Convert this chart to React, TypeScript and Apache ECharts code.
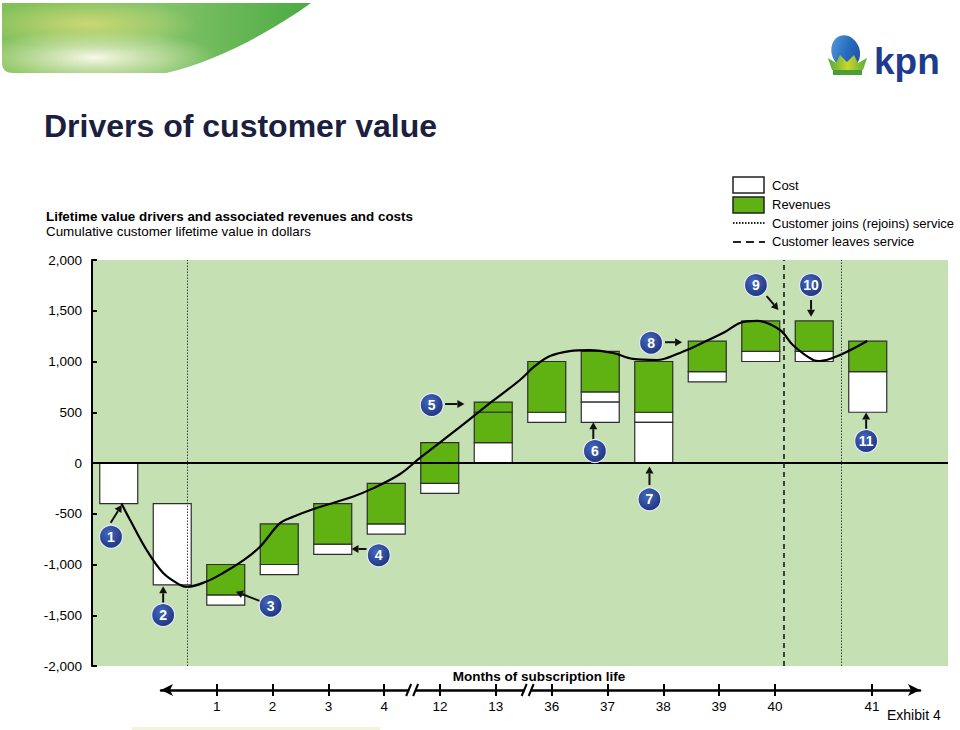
import React, { useEffect, useRef } from "react";
import * as echarts from "echarts";

const FONT = '"Liberation Sans", Arial, Helvetica, sans-serif';

// y axis ticks (cumulative customer lifetime value, dollars)
const yMin = -2000;
const yMax = 2000;
const yStep = 500;

// bar segments: [bar number, low, high]
const costSegments: number[][] = [
  [1, -400, 0],
  [2, -1200, -400],
  [3, -1400, -1300],
  [4, -1100, -1000],
  [5, -900, -800],
  [6, -700, -600],
  [7, -300, -200],
  [8, 0, 200],
  [9, 400, 500],
  [10, 600, 700],
  [10, 400, 600],
  [11, 400, 500],
  [11, 0, 400],
  [12, 800, 900],
  [13, 1000, 1100],
  [14, 1000, 1100],
  [15, 500, 900],
];

const revenueSegments: number[][] = [
  [3, -1300, -1000],
  [4, -1000, -600],
  [5, -800, -400],
  [6, -600, -200],
  [7, -200, 200],
  [8, 500, 600],
  [8, 200, 500],
  [9, 500, 1000],
  [10, 700, 1100],
  [11, 500, 1000],
  [12, 900, 1200],
  [13, 1100, 1400],
  [14, 1100, 1400],
  [15, 900, 1200],
];

// cumulative value curve: [position in bar units, value]
const valueCurve: number[][] = [
  [1.05, -400], [1.21, -560], [1.52, -857], [1.83, -1084], [2.14, -1200],
  [2.28, -1220], [2.63, -1170], [2.95, -1084], [3.34, -955], [3.64, -825],
  [4.01, -595], [4.26, -530], [4.63, -455], [5.36, -335], [5.75, -250],
  [6.26, -108], [6.63, 50], [7.38, 355], [7.99, 611], [8.5, 818],
  [8.78, 956], [9.06, 1054], [9.43, 1103], [9.81, 1113], [10.24, 1084],
  [10.61, 1025], [11.06, 1015], [11.49, 1084], [11.62, 1113], [12.33, 1290],
  [12.61, 1380], [12.93, 1400], [13.36, 1310], [13.6, 1163], [13.98, 1015],
  [14.1, 1005], [14.48, 1064], [14.99, 1202],
];

// event lines (bar units)
const joinLines = [2.28, 14.5];
const leaveLines = [13.43];

// callouts: [number, circle x, circle y, arrow from x, from y, arrow to x, to y]
const callouts: number[][] = [
  [1, 0.855, -726, 0.85, -588, 1.055, -414],
  [2, 1.83, -1497, 1.83, -1376, 1.83, -1215],
  [3, 3.84, -1406, 3.67, -1366, 3.19, -1268],
  [4, 5.86, -909, 5.63, -847, 5.35, -847],
  [5, 6.85, 571, 7.1, 581, 7.46, 581],
  [6, 9.9, 118, 9.87, 210, 9.87, 402],
  [7, 10.92, -358, 10.92, -217, 10.92, -35],
  [8, 10.95, 1185, 11.21, 1190, 11.53, 1190],
  [9, 12.91, 1754, 13.11, 1645, 13.33, 1507],
  [10, 13.94, 1754, 13.94, 1606, 13.94, 1441],
  [11, 14.97, 217, 14.97, 325, 14.97, 497],
];

// bottom timeline
const monthLabels = ["1", "2", "3", "4", "12", "13", "36", "37", "38", "39", "40", "41"];
const monthTickPos = [1, 2, 3, 4, 5, 6, 7, 8, 9, 10, 11, 12.74];
const axisBreaks = [4.5, 6.57];

const REV = "#60B212";
const BG = "#C5E0B3";
const NAVY = "#1E3C8E";

const swooshPath =
  "M2 3 L311 3 C 276 28 222 60 166 73 L 13 73 Q 2 73 2 62 Z";
echarts.graphic.registerShape("swoosh", echarts.graphic.extendPath(swooshPath, {}));

export default function App() {
  const ref = useRef<HTMLDivElement>(null);

  useEffect(() => {
    if (!ref.current) return;
    const chart = echarts.init(ref.current, null, { renderer: "svg" });

    const barData = [
      ...costSegments.map((s) => [s[0], s[1], s[2], 0]),
      ...revenueSegments.map((s) => [s[0], s[1], s[2], 1]),
    ];

    const markLineData: any[] = [
      { yAxis: 0, lineStyle: { type: "solid", width: 2, color: "#000" } },
      ...joinLines.map((x) => ({
        xAxis: x,
        lineStyle: { type: [1.5, 1.5], width: 1, color: "#3a3a3a" },
      })),
      ...leaveLines.map((x) => ({
        xAxis: x,
        lineStyle: { type: [5, 4], width: 1.6, color: "#1a1a1a" },
      })),
    ];

    const tickAxisBase = {
      type: "value",
      gridIndex: 1,
      min: 0,
      max: 13.6,
      position: "bottom",
      splitLine: { show: false },
    };

    const option: any = {
      animation: false,
      grid: [
        {
          left: 92,
          top: 260,
          width: 856,
          height: 406,
          show: true,
          backgroundColor: BG,
          borderWidth: 0,
        },
        { left: 161, top: 680, width: 759, height: 10, show: false },
      ],
      xAxis: [
        { type: "value", min: 0.5, max: 16.5, show: false, gridIndex: 0 },
        {
          ...tickAxisBase,
          axisLine: {
            show: true,
            onZero: false,
            symbol: ["arrow", "arrow"],
            symbolSize: [9, 12],
            lineStyle: { color: "#000", width: 2.5 },
          },
          axisTick: {
            show: true,
            customValues: monthTickPos,
            length: 6,
            inside: false,
            lineStyle: { color: "#000", width: 2 },
          },
          axisLabel: {
            show: true,
            customValues: monthTickPos,
            margin: 9,
            fontSize: 13.5,
            fontFamily: FONT,
            color: "#000",
            formatter: (v: number) => {
              const i = monthTickPos.findIndex((p) => Math.abs(p - v) < 0.01);
              return i >= 0 ? monthLabels[i] : "";
            },
          },
        },
        {
          ...tickAxisBase,
          axisLine: { show: false, onZero: false },
          axisTick: {
            show: true,
            customValues: monthTickPos,
            length: 6,
            inside: true,
            lineStyle: { color: "#000", width: 2 },
          },
          axisLabel: { show: false },
        },
      ],
      yAxis: [
        {
          type: "value",
          gridIndex: 0,
          min: yMin,
          max: yMax,
          interval: yStep,
          axisLine: { show: true, lineStyle: { color: "#000", width: 2 } },
          axisTick: { show: true, inside: true, length: 5, lineStyle: { color: "#000", width: 2 } },
          axisLabel: {
            fontSize: 13.5,
            fontFamily: FONT,
            color: "#000",
            margin: 10,
            formatter: (v: number) => v.toLocaleString("en-US"),
          },
          splitLine: { show: false },
        },
        { type: "value", gridIndex: 1, min: 0, max: 1, show: false },
      ],
      series: [
        {
          type: "custom",
          name: "bars",
          xAxisIndex: 0,
          yAxisIndex: 0,
          z: 2,
          data: barData,
          encode: { x: 0, y: [1, 2] },
          renderItem: (params: any, api: any) => {
            const x = api.value(0);
            const lo = api.value(1);
            const hi = api.value(2);
            const kind = api.value(3);
            const p1 = api.coord([x, hi]);
            const p2 = api.coord([x, lo]);
            const w = api.size([0.71, 0])[0];
            return {
              type: "rect",
              shape: { x: p1[0] - w / 2, y: p1[1], width: w, height: p2[1] - p1[1] },
              style: { fill: kind ? REV : "#ffffff", stroke: "#2e2e2e", lineWidth: 1.2 },
            };
          },
        },
        {
          type: "line",
          name: "value",
          xAxisIndex: 0,
          yAxisIndex: 0,
          z: 4,
          data: valueCurve,
          smooth: 0.35,
          showSymbol: false,
          symbol: "none",
          lineStyle: { color: "#000", width: 2.2 },
          markLine: {
            silent: true,
            symbol: ["none", "none"],
            label: { show: false },
            data: markLineData,
          },
        },
        {
          type: "custom",
          name: "callouts",
          xAxisIndex: 0,
          yAxisIndex: 0,
          z: 6,
          clip: false,
          data: callouts,
          encode: { x: 1, y: 2 },
          renderItem: (params: any, api: any) => {
            const c = api.coord([api.value(1), api.value(2)]);
            const a = api.coord([api.value(3), api.value(4)]);
            const b = api.coord([api.value(5), api.value(6)]);
            const dx = b[0] - a[0];
            const dy = b[1] - a[1];
            const len = Math.hypot(dx, dy) || 1;
            const ux = dx / len;
            const uy = dy / len;
            const hl = 7;
            const hw = 4;
            const bx = b[0] - ux * hl;
            const by = b[1] - uy * hl;
            return {
              type: "group",
              children: [
                {
                  type: "line",
                  shape: { x1: a[0], y1: a[1], x2: bx, y2: by },
                  style: { stroke: "#111", lineWidth: 2 },
                },
                {
                  type: "polygon",
                  shape: {
                    points: [
                      [b[0], b[1]],
                      [bx - uy * hw, by + ux * hw],
                      [bx + uy * hw, by - ux * hw],
                    ],
                  },
                  style: { fill: "#111" },
                },
                {
                  type: "circle",
                  shape: { cx: c[0], cy: c[1], r: 11.5 },
                  style: {
                    fill: new echarts.graphic.RadialGradient(0.4, 0.35, 0.75, [
                      { offset: 0, color: "#4568bd" },
                      { offset: 1, color: "#1b2f78" },
                    ]),
                    stroke: "#e3e9f5",
                    lineWidth: 1.2,
                  },
                },
                {
                  type: "text",
                  x: c[0],
                  y: c[1],
                  style: {
                    text: String(api.value(0)),
                    fill: "#ffffff",
                    font: `bold 14px ${FONT}`,
                    align: "center",
                    verticalAlign: "middle",
                  },
                },
              ],
            };
          },
        },
        {
          type: "custom",
          name: "breaks",
          xAxisIndex: 1,
          yAxisIndex: 1,
          z: 6,
          clip: false,
          data: axisBreaks.map((b) => [b, 0]),
          encode: { x: 0, y: 1 },
          renderItem: (params: any, api: any) => {
            const p = api.coord([api.value(0), 0]);
            return {
              type: "group",
              children: [
                {
                  type: "rect",
                  shape: { x: p[0] - 3, y: p[1] - 3, width: 6, height: 6 },
                  style: { fill: "#fff" },
                },
                {
                  type: "line",
                  shape: { x1: p[0] - 6, y1: p[1] + 6, x2: p[0] - 1, y2: p[1] - 6 },
                  style: { stroke: "#000", lineWidth: 2 },
                },
                {
                  type: "line",
                  shape: { x1: p[0] + 1, y1: p[1] + 6, x2: p[0] + 6, y2: p[1] - 6 },
                  style: { stroke: "#000", lineWidth: 2 },
                },
              ],
            };
          },
        },
      ],
      graphic: [
        // top-left swoosh
        {
          type: "swoosh",
          x: 0,
          y: 0,
          silent: true,
          style: {
            fill: new echarts.graphic.LinearGradient(0, 0, 1, 0, [
              { offset: 0, color: "#82c05a" },
              { offset: 0.5, color: "#86c46a" },
              { offset: 1, color: "#4aab42" },
            ]),
          },
        },
        {
          type: "swoosh",
          x: 0,
          y: 0,
          silent: true,
          style: {
            fill: new echarts.graphic.RadialGradient(0.28, 0.3, 0.35, [
              { offset: 0, color: "rgba(215,220,120,0.85)" },
              { offset: 1, color: "rgba(215,220,120,0)" },
            ]),
          },
        },
        {
          type: "swoosh",
          x: 0,
          y: 0,
          silent: true,
          style: {
            fill: new echarts.graphic.RadialGradient(0.3, 0.78, 0.4, [
              { offset: 0, color: "rgba(255,252,240,0.95)" },
              { offset: 0.5, color: "rgba(240,242,210,0.5)" },
              { offset: 1, color: "rgba(230,240,190,0)" },
            ]),
          },
        },
        // KPN logo
        {
          type: "ellipse",
          silent: true,
          shape: { cx: 846, cy: 52, rx: 14, ry: 17 },
          rotation: 0.35,
          originX: 846,
          originY: 52,
          style: {
            fill: new echarts.graphic.LinearGradient(0, 0, 1, 1, [
              { offset: 0, color: "#5aa0de" },
              { offset: 0.5, color: "#2a6cc0" },
              { offset: 1, color: "#1b4a9a" },
            ]),
          },
        },
        {
          type: "polygon",
          silent: true,
          shape: {
            points: [
              [828, 58], [836, 63], [840, 55], [847, 62], [854, 55],
              [858, 63], [867, 58], [863, 70], [832, 70],
            ],
          },
          style: {
            fill: new echarts.graphic.LinearGradient(0, 0, 1, 0, [
              { offset: 0, color: "#4fa83c" },
              { offset: 0.5, color: "#c9d62a" },
              { offset: 1, color: "#5aab3a" },
            ]),
          },
        },
        {
          type: "rect",
          silent: true,
          shape: { x: 833, y: 70, width: 29, height: 5 },
          style: { fill: "#4a9e36" },
        },
        {
          type: "text",
          silent: true,
          x: 874,
          y: 61,
          style: {
            text: "kpn",
            font: `bold 37px ${FONT}`,
            fill: NAVY,
            verticalAlign: "middle",
          },
        },
        // title
        {
          type: "text",
          x: 44,
          y: 126,
          style: {
            text: "Drivers of customer value",
            font: `bold 32px ${FONT}`,
            fill: "#1b2040",
            verticalAlign: "middle",
          },
        },
        {
          type: "text",
          x: 46,
          y: 216.5,
          style: {
            text: "Lifetime value drivers and associated revenues and costs",
            font: `bold 13.4px ${FONT}`,
            fill: "#000",
            verticalAlign: "middle",
          },
        },
        {
          type: "text",
          x: 46,
          y: 231,
          style: {
            text: "Cumulative customer lifetime value in dollars",
            font: `13.4px ${FONT}`,
            fill: "#000",
            verticalAlign: "middle",
          },
        },
        // legend
        {
          type: "rect",
          shape: { x: 733, y: 177, width: 31, height: 16 },
          style: { fill: "#fff", stroke: "#222", lineWidth: 1.5 },
        },
        {
          type: "rect",
          shape: { x: 733, y: 197, width: 31, height: 16 },
          style: { fill: REV, stroke: "#222", lineWidth: 1.5 },
        },
        {
          type: "line",
          shape: { x1: 733, y1: 223, x2: 765, y2: 223 },
          style: { stroke: "#222", lineWidth: 2, lineDash: [1.5, 1.5] },
        },
        {
          type: "line",
          shape: { x1: 733, y1: 242, x2: 765, y2: 242 },
          style: { stroke: "#222", lineWidth: 2.2, lineDash: [8, 5] },
        },
        ...[
          ["Cost", 185],
          ["Revenues", 204.3],
          ["Customer joins (rejoins) service", 223.3],
          ["Customer leaves service", 241.7],
        ].map(([t, y]) => ({
          type: "text",
          x: 772,
          y: y as number,
          style: { text: t as string, font: `13px ${FONT}`, fill: "#000", verticalAlign: "middle" },
        })),
        // timeline title and footer
        {
          type: "text",
          x: 539,
          y: 676,
          style: {
            text: "Months of subscription life",
            font: `bold 13.5px ${FONT}`,
            fill: "#000",
            align: "center",
            verticalAlign: "middle",
          },
        },
        {
          type: "text",
          x: 887,
          y: 715,
          style: { text: "Exhibit 4", font: `14px ${FONT}`, fill: "#000", verticalAlign: "middle" },
        },
        {
          type: "rect",
          silent: true,
          shape: { x: 132, y: 727, width: 248, height: 3 },
          style: { fill: "#f1f4d8" },
        },
      ],
    };

    chart.setOption(option);
    return () => chart.dispose();
  }, []);

  return (
    <div
      ref={ref}
      style={{ position: "absolute", left: 0, top: 0, width: 960, height: 730, background: "#fff" }}
    />
  );
}
